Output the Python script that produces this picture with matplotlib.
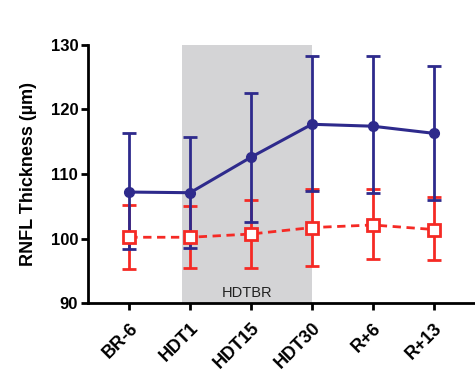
import numpy as np
import matplotlib
matplotlib.use("Agg")
import matplotlib.pyplot as plt

plt.rcParams['font.family'] = ['Liberation Sans', 'DejaVu Sans']

# data
timepoints = ["BR-6", "HDT1", "HDT15", "HDT30", "R+6", "R+13"]
blue_mean = [107.2, 107.1, 112.6, 117.7, 117.4, 116.3]
blue_upper = [116.3, 115.8, 122.6, 128.2, 128.2, 126.8]
blue_lower = [98.4, 98.6, 102.6, 107.4, 107.0, 106.0]
red_mean = [100.2, 100.2, 100.7, 101.7, 102.1, 101.4]
red_upper = [105.2, 105.0, 105.9, 107.7, 107.7, 106.5]
red_lower = [95.3, 95.5, 95.5, 95.8, 96.8, 96.6]
shade_start, shade_end = 0.86, 3.0

blue = '#2e2a8c'
red = '#f52a25'

x = np.arange(len(timepoints))
blue_err = [np.array(blue_mean) - blue_lower, np.array(blue_upper) - blue_mean]
red_err = [np.array(red_mean) - red_lower, np.array(red_upper) - red_mean]

fig = plt.figure(figsize=(4.75, 3.77), dpi=100)
ax = fig.add_axes([0.185, 0.196, 0.815, 0.685])

# HDTBR period
ax.axvspan(shade_start, shade_end, ymin=0, ymax=1, color='#d4d4d6', zorder=0, lw=0)
ax.text((shade_start + shade_end) / 2, 91.5, "HDTBR", ha='center', va='center',
        fontsize=10.5, color='#222222')

# red series (dashed, open squares)
ax.errorbar(x, red_mean, yerr=red_err, fmt='none', ecolor=red, elinewidth=2,
            capsize=5, capthick=2, zorder=2)
# blue series (solid, filled circles)
ax.errorbar(x, blue_mean, yerr=blue_err, fmt='none', ecolor=blue, elinewidth=2,
            capsize=5, capthick=2, zorder=3)
ax.plot(x, blue_mean, color=blue, lw=2.2, marker='o', ms=7, zorder=4)
ax.plot(x, red_mean, color=red, lw=2, ls=(0, (3, 2)), marker='s', ms=9,
        mfc='white', mec=red, mew=2, zorder=5)

ax.set_xlim(-0.68, 5.68)
ax.set_ylim(90, 130)
ax.set_yticks([90, 100, 110, 120, 130])
ax.set_xticks(x)
ax.set_xticklabels(timepoints, rotation=45, ha='right', rotation_mode='anchor',
                   fontweight='bold', fontsize=13)
for lab in ax.get_yticklabels():
    lab.set_fontweight('bold')
    lab.set_fontsize(12)
ax.set_ylabel("RNFL Thickness (µm)", fontweight='bold', fontsize=13, labelpad=10)

ax.spines['top'].set_visible(False)
ax.spines['right'].set_visible(False)
ax.spines['left'].set_linewidth(2)
ax.spines['bottom'].set_linewidth(2)
ax.tick_params(width=2, length=5, pad=2)
ax.tick_params(axis='x', pad=7)

fig.savefig("out.png", dpi=100)
